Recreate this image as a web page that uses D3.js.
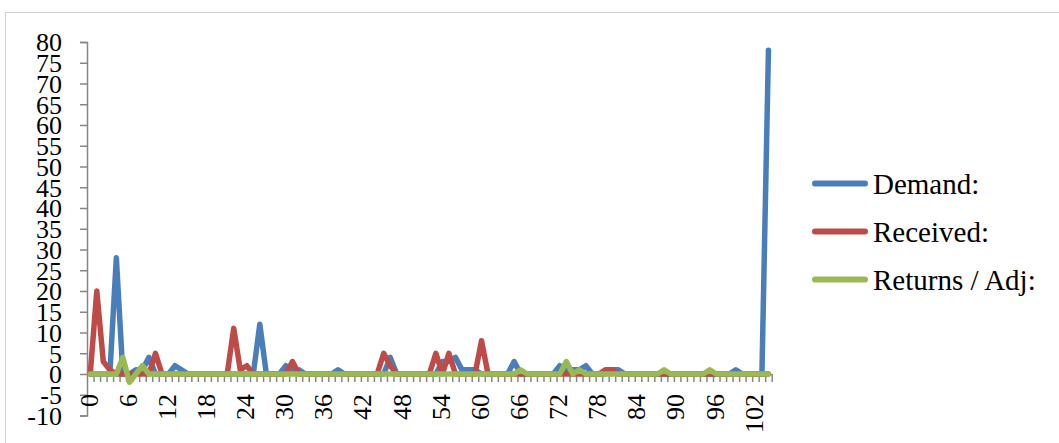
<!DOCTYPE html>
<html><head><meta charset="utf-8">
<script src="https://cdn.jsdelivr.net/npm/d3@7"></script>
<style>
html,body{margin:0;padding:0;background:#fff;}
svg{display:block;}
</style></head>
<body><svg id="chart" width="1059" height="443"></svg>
<script>
const categories = d3.range(0, 105);
const xTickLabels = [0,6,12,18,24,30,36,42,48,54,60,66,72,78,84,90,96,102];
const yTickValues = [-10,-5,0,5,10,15,20,25,30,35,40,45,50,55,60,65,70,75,80];
const demand = [0,0,0,0,28,0,0,1,1,4,
 0,0,0,2,1,0,0,0,0,0,
 0,0,0,0,0,0,12,0,0,0,
 2,1,1,0,0,0,0,0,1,0,
 0,0,0,0,0,0,4,0,0,0,
 0,0,0,0,3,3,4,1,1,1,
 0,0,0,0,0,3,0,0,0,0,
 0,0,2,1,1,1,2,0,0,0,
 1,1,0,0,0,0,0,0,0,0,
 0,0,0,0,0,0,0,0,0,1,
 0,0,0,0,78];
const received = [0,20,3,1,0,0,0,0,0,0,
 5,0,0,0,0,0,0,0,0,0,
 0,0,11,1,2,0,0,0,0,0,
 0,3,0,0,0,0,0,0,0,0,
 0,0,0,0,0,5,2,0,0,0,
 0,0,0,5,0,5,0,0,0,0,
 8,0,0,0,0,0,0,0,0,0,
 0,0,0,0,0,0,0,0,0,1,
 1,0,0,0,0,0,0,0,0,0,
 0,0,0,0,0,0,0,0,0,0,
 0,0,0,0,0];
const returnsAdj = [0,0,0,0,0,4,-2,0,2,0,
 0,0,0,0,0,0,0,0,0,0,
 0,0,0,0,0,0,0,0,0,0,
 0,0,0,0,0,0,0,0,0,0,
 0,0,0,0,0,0,0,0,0,0,
 0,0,0,0,0,0,0,0,0,0,
 0,0,0,0,0,0,1,0,0,0,
 0,0,0,3,0,1,0,0,0,0,
 0,0,0,0,0,0,0,0,1,0,
 0,0,0,0,0,1,0,0,0,0,
 0,0,0,0,0];
const seriesNames = ["Demand:", "Received:", "Returns / Adj:"];
const seriesColors = ["#4A7EBB", "#BE4B48", "#98B954"];
const seriesValues = [demand, received, returnsAdj];

const FONT = "'Liberation Serif', 'Times New Roman', Tinos, Times, 'DejaVu Serif', serif";
const svg = d3.select("#chart");
// outer chart border
svg.append("rect").attr("x",5.5).attr("y",12.5).attr("width",1100).attr("height",500)
  .attr("fill","none").attr("stroke","#cfcfcf").attr("stroke-width",1);

const x0 = 87, x1 = 771.7;
const x = d3.scaleBand().domain(categories).range([x0, x1]).padding(0);
const y = d3.scaleLinear().domain([-10, 80]).range([415.5, 42]);
const xb = d3.scaleLinear().domain([0, categories.length]).range([x0, x1]);
const axisColor = "#868686";

// y axis
const yAxis = svg.append("g").attr("transform", `translate(${x0},0)`)
  .call(d3.axisLeft(y).tickValues(yTickValues).tickSize(7).tickFormat(d=>d));
yAxis.attr("font-family", FONT);
yAxis.select(".domain").attr("stroke", axisColor).attr("stroke-width",1.5);
yAxis.selectAll(".tick line").attr("stroke", axisColor).attr("stroke-width",1.5);
yAxis.selectAll(".tick text").attr("x",-25).attr("font-size","26px")
  .attr("font-family", FONT).attr("fill","#000").attr("dy","0.34em");

// x axis ticks (between categories)
const xAxis = svg.append("g").attr("transform", `translate(0,${y(0)})`)
  .call(d3.axisBottom(xb).tickValues(d3.range(1, categories.length + 1)).tickSize(8).tickFormat("").tickSizeOuter(0));
xAxis.select(".domain").attr("stroke", axisColor).attr("stroke-width",1.5);
xAxis.selectAll(".tick line").attr("stroke", axisColor).attr("stroke-width",1.5);

// x labels
const xLab = svg.append("g").attr("transform", `translate(0,${y(0)})`)
  .call(d3.axisBottom(x).tickValues(xTickLabels).tickSize(0));
xLab.attr("font-family", FONT);
xLab.select(".domain").remove();
xLab.selectAll(".tick text")
  .attr("font-size","26px").attr("font-family", FONT).attr("fill","#000")
  .attr("text-anchor","end").attr("transform","translate(-1.5,20) rotate(-90)")
  .attr("x",0).attr("y",0).attr("dy","0.34em");

// lines
const line = d3.line().x((d,i)=>x(categories[i]) + x.bandwidth()/2).y(d=>y(d));
seriesValues.forEach((vals, k) => {
  svg.append("path").datum(vals).attr("d", line).attr("fill","none")
    .attr("stroke", seriesColors[k]).attr("stroke-width",5.5)
    .attr("stroke-linejoin","round").attr("stroke-linecap","round");
});

// legend
const legendY = [183.5, 231.5, 279.5];
const lg = svg.append("g");
seriesNames.forEach((name, k) => {
  lg.append("line").attr("x1",815).attr("x2",865).attr("y1",legendY[k]).attr("y2",legendY[k])
    .attr("stroke",seriesColors[k]).attr("stroke-width",6).attr("stroke-linecap","round");
  lg.append("text").attr("x",873).attr("y",legendY[k]).attr("dy","0.36em")
    .attr("font-family", FONT).attr("font-size","29px").attr("fill","#000").text(name);
});
</script></body></html>
